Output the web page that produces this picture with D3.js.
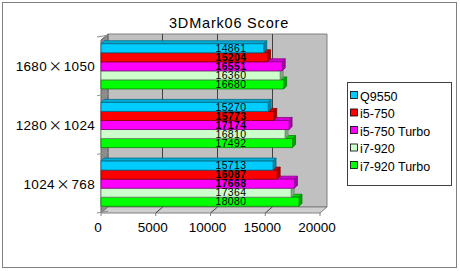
<!DOCTYPE html>
<html>
<head>
<meta charset="utf-8">
<script src="https://cdn.jsdelivr.net/npm/d3@7"></script>
<style>
  body { margin: 0; background: #fff; }
  text { font-family: "Liberation Sans", Arial, sans-serif; }
</style>
</head>
<body>
<div id="chart"></div>
<script>
const categories = ["1680×1050", "1280×1024", "1024×768"];
const seriesNames = ["Q9550", "i5-750", "i5-750 Turbo", "i7-920", "i7-920 Turbo"];
const seriesColors = ["#00ccff", "#ff0000", "#ff00ff", "#ccffcc", "#00ff00"];
const q9550 = [14861, 15270, 15713];
const i5750 = [15204, 15773, 16087];
const i5750Turbo = [16551, 17174, 17668];
const i7920 = [16360, 16810, 17364];
const i7920Turbo = [16680, 17492, 18080];
const xTicks = [0, 5000, 10000, 15000, 20000];

(function() {
  const width = 460, height = 271;
  const values = [q9550, i5750, i5750Turbo, i7920, i7920Turbo];
  const bold = [false, true, true, false, false];

  const svg = d3.select("#chart").append("svg")
    .attr("width", width).attr("height", height);

  // outer frame
  svg.append("rect")
    .attr("x", 2.5).attr("y", 2.5)
    .attr("width", 454).attr("height", 265)
    .attr("fill", "#fff").attr("stroke", "#808080");

  svg.append("text")
    .attr("x", 229).attr("y", 28)
    .attr("text-anchor", "middle")
    .style("font-size", "14.5px")
    .style("letter-spacing", "0.8px")
    .text("3DMark06 Score");

  const top = 40, bottom = 213;
  const dx = 7, dy = -6;     // wall depth
  const bx = 3, by = -3;     // bar depth

  const x = d3.scaleLinear().domain([0, 20000]).range([101, 320]);
  const y = d3.scaleBand().domain(categories)
    .range([top - 3, bottom]).paddingInner(0.23).paddingOuter(0.115);
  const ys = d3.scaleBand().domain(seriesNames).range([0, y.bandwidth()]);

  const x0 = x(0), x1 = x(20000);
  const poly = pts => pts.map(p => p.join(",")).join(" ");

  // back wall
  svg.append("polygon")
    .attr("points", poly([[x0 + dx, top + dy], [x1 + dx, top + dy], [x1 + dx, bottom + dy], [x0 + dx, bottom + dy]]))
    .attr("fill", "#c0c0c0").attr("stroke", "#808080");
  // left wall
  svg.append("polygon")
    .attr("points", poly([[x0, top], [x0 + dx, top + dy], [x0 + dx, bottom + dy], [x0, bottom]]))
    .attr("fill", "#8c8c8c").attr("stroke", "#606060");
  // floor
  svg.append("polygon")
    .attr("points", poly([[x0, bottom], [x0 + dx, bottom + dy], [x1 + dx, bottom + dy], [x1, bottom]]))
    .attr("fill", "#cfcfcf").attr("stroke", "#808080");

  // gridlines
  xTicks.slice(1, -1).forEach(t => {
    svg.append("line")
      .attr("x1", x(t) + dx).attr("x2", x(t) + dx)
      .attr("y1", top + dy).attr("y2", bottom + dy)
      .attr("stroke", "#404040").attr("stroke-width", 1)
      .attr("shape-rendering", "crispEdges");
    svg.append("line")
      .attr("x1", x(t)).attr("y1", bottom)
      .attr("x2", x(t) + dx).attr("y2", bottom + dy)
      .attr("stroke", "#404040");
  });
  xTicks.forEach(t => {
    svg.append("line")
      .attr("x1", x(t)).attr("x2", x(t))
      .attr("y1", bottom).attr("y2", bottom + 3)
      .attr("stroke", "#808080");
  });

  // category boundary ticks on the left
  const step = y.step();
  d3.range(4).forEach(i => {
    const yy = top - 3 + i * step;
    svg.append("line")
      .attr("x1", x0 - 4).attr("x2", x0 + dx).attr("y1", yy).attr("y2", yy + dy * 0.3)
      .attr("stroke", "#909090");
  });

  // bars
  categories.forEach((cat, ci) => {
    for (let si = seriesNames.length - 1; si >= 0; si--) {
      const v = values[si][ci];
      const yt = y(cat) + ys(seriesNames[si]);
      const h = ys.bandwidth();
      const xe = x(v);
      const c = seriesColors[si];
      const dark = d3.color(c).darker(1.2).formatHex();
      const edge = d3.color(c).darker(1.8).formatHex();
      const g = svg.append("g").attr("stroke", edge).attr("stroke-width", 0.8)
        .attr("stroke-linejoin", "round");
      // top face
      g.append("polygon")
        .attr("points", poly([[x0, yt], [x0 + bx, yt + by], [xe + bx, yt + by], [xe, yt]]))
        .attr("fill", d3.color(c).darker(0.5).formatHex());
      // side face
      g.append("polygon")
        .attr("points", poly([[xe, yt], [xe + bx, yt + by], [xe + bx, yt + h + by], [xe, yt + h]]))
        .attr("fill", dark);
      // front face
      g.append("rect")
        .attr("x", x0).attr("y", yt)
        .attr("width", xe - x0).attr("height", h)
        .attr("fill", c);
    }
  });

  // value labels
  categories.forEach((cat, ci) => {
    seriesNames.forEach((s, si) => {
      svg.append("text")
        .attr("x", 231)
        .attr("y", y(cat) + ys(s) + ys.bandwidth() / 2 + 3.6)
        .attr("text-anchor", "middle")
        .style("font-family", "'Liberation Sans Narrow', 'Liberation Sans', sans-serif")
        .style("font-size", "10.5px")
        .style("letter-spacing", "0.4px")
        .style("font-weight", bold[si] ? "bold" : "normal")
        .text(values[si][ci]);
    });
  });

  // category labels (× drawn in a CJK font, full width as in the original)
  categories.forEach(cat => {
    const parts = cat.split("×");
    const t = svg.append("text")
      .attr("x", 95)
      .attr("y", y(cat) + y.bandwidth() / 2 + 5)
      .attr("text-anchor", "end")
      .style("font-size", "13.5px")
      .style("letter-spacing", "0.3px");
    t.append("tspan").text(parts[0]);
    t.append("tspan").style("font-family", "'Noto Sans CJK JP', sans-serif")
      .attr("dx", 1.5).text("×");
    t.append("tspan").attr("dx", 1.5).text(parts[1]);
  });

  // x axis labels
  svg.selectAll(".xl").data(xTicks).join("text")
    .attr("x", d => x(d) - 3)
    .attr("y", 232)
    .attr("text-anchor", "middle")
    .style("font-size", "13.5px")
    .text(d => d);

  // legend
  const lg = svg.append("g");
  lg.append("rect")
    .attr("x", 347.5).attr("y", 82.5)
    .attr("width", 104).attr("height", 103)
    .attr("fill", "#fff").attr("stroke", "#404040");
  seriesNames.forEach((s, i) => {
    const cy = 96 + i * 17.5;
    lg.append("rect")
      .attr("x", 350.5).attr("y", cy - 4.5)
      .attr("width", 7).attr("height", 7)
      .attr("fill", seriesColors[i]).attr("stroke", "#000").attr("stroke-width", 0.8);
    lg.append("text")
      .attr("x", 360).attr("y", cy + 4.5)
      .style("font-size", "12.5px")
      .text(s);
  });
})();
</script>
</body>
</html>
